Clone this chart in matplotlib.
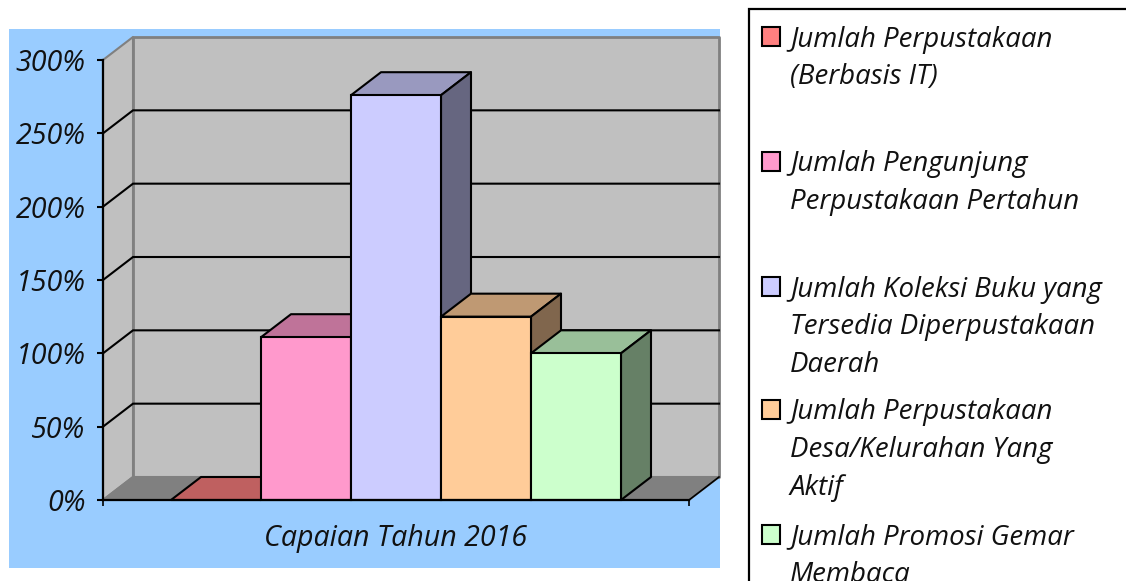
import matplotlib
matplotlib.use("Agg")
import matplotlib.pyplot as plt
from matplotlib.patches import Rectangle

# ---------------------------
# data
# ---------------------------
category = "Capaian Tahun 2016"
series_values = [0, 111, 276, 125, 100]
series_colors = ["#FF8080", "#FF99CC", "#CCCCFF", "#FFCC99", "#CCFFCC"]
series_labels = [
    ["Jumlah Perpustakaan", "(Berbasis IT)"],
    ["Jumlah Pengunjung", "Perpustakaan Pertahun"],
    ["Jumlah Koleksi Buku yang", "Tersedia Diperpustakaan", "Daerah"],
    ["Jumlah Perpustakaan", "Desa/Kelurahan Yang", "Aktif"],
    ["Jumlah Promosi Gemar", "Membaca"],
]
y_ticks = [0, 50, 100, 150, 200, 250, 300]
y_labels = ["0%", "50%", "100%", "150%", "200%", "250%", "300%"]

W, H = 1126, 581
plt.rcParams["font.family"] = "Open Sans"
plt.rcParams["font.style"] = "italic"
FS_AXIS = 20.6
FS_LEGEND = 19.9
TXT = "#111111"

fig = plt.figure(figsize=(W / 100, H / 100), dpi=100, facecolor="white")


def fig_box(x0, y0, x1, y1):
    # pixel box (top-left origin) to figure fractions
    return [x0 / W, 1 - y1 / H, (x1 - x0) / W, (y1 - y0) / H]


# blue chart area
l, b, w, h = fig_box(9, 29, 720, 568)
fig.patches.append(Rectangle((l, b), w, h, transform=fig.transFigure, fc="#99CCFF", ec="none", zorder=-5))

# legend frame runs off the right and bottom of the picture
l, b, w, h = fig_box(749, 9, 1140, 600)
fig.patches.append(Rectangle((l, b), w, h, transform=fig.transFigure, fc="white", ec="black", lw=1.6, zorder=-5))

# ---------------------------
# 3D looking column chart
# ---------------------------
ax = fig.add_axes(fig_box(103, 60, 689, 500))
ax.set_xlim(0, 1)
ax.set_ylim(0, 300)
ax.patch.set_visible(False)

depth_x = 30 / 586
depth_y = 23 / 440 * 300
bar_w = 90 / 586
start_x = 0.5 - bar_w * len(series_values) / 2


def poly(xs, ys, color, edge="black", lw=1.5, z=2):
    ax.fill(xs, ys, fc=color, ec=edge, lw=lw, clip_on=False, zorder=z, joinstyle="round")


def shade(color, k):
    r, g, b_ = matplotlib.colors.to_rgb(color)
    return (r * k, g * k, b_ * k)


# walls and floor
top = y_ticks[-1]
poly([0, depth_x, depth_x, 0], [0, depth_y, top + depth_y, top], "#C0C0C0", "#808080", 1.5, 1)
poly([depth_x, 1 + depth_x, 1 + depth_x, depth_x], [depth_y, depth_y, top + depth_y, top + depth_y],
     "#C0C0C0", "#808080", 2, 1)
poly([0, 1, 1 + depth_x, depth_x], [0, 0, depth_y, depth_y], "#808080", "#808080", 1.5, 1)

# grid lines, side wall and back wall
for t in y_ticks[1:-1]:
    ax.plot([0, depth_x, 1 + depth_x], [t, t + depth_y, t + depth_y], color="black", lw=1.5,
            clip_on=False, zorder=1.5, solid_joinstyle="miter")
ax.plot([1, 1 + depth_x], [0, depth_y], color="black", lw=1.2, clip_on=False, zorder=1.5)

# bars, each one drawn over the previous
for i, (val, col) in enumerate(zip(series_values, series_colors)):
    x0 = start_x + i * bar_w
    x1 = x0 + bar_w
    z = 2 + i * 0.1
    poly([x0, x1, x1 + depth_x, x0 + depth_x], [val, val, val + depth_y, val + depth_y], shade(col, 0.75), z=z)
    poly([x1, x1 + depth_x, x1 + depth_x, x1], [0, depth_y, val + depth_y, val], shade(col, 0.5), z=z)
    if val > 0:
        ax.bar(x0, val, bar_w, align="edge", color=col, edgecolor="black", lw=1.5, zorder=z + 0.05, clip_on=False)

# axes
for s in ["top", "right"]:
    ax.spines[s].set_visible(False)
for s in ["left", "bottom"]:
    ax.spines[s].set_linewidth(1.6)
    ax.spines[s].set_zorder(4)
ax.set_yticks(y_ticks, y_labels, fontsize=FS_AXIS, color=TXT)
ax.set_xticks([0, 1], ["", ""])
ax.set_xticks([0.5], [category], minor=True, fontsize=FS_AXIS, color=TXT)
ax.tick_params(axis="y", direction="out", length=4, width=1.5, pad=8.5)
ax.tick_params(axis="x", which="major", direction="out", length=4, width=1.2)
ax.tick_params(axis="x", which="minor", length=0, pad=17)

# ---------------------------
# legend
# ---------------------------
key_tops = [27, 152, 277, 400, 525]
line_step = 37.7
for key_y, col, lines in zip(key_tops, series_colors, series_labels):
    l, b, w, h = fig_box(762, key_y, 780, key_y + 19)
    fig.patches.append(Rectangle((l, b), w, h, transform=fig.transFigure, fc=col, ec="black", lw=1.5))
    for n, line in enumerate(lines):
        fig.text(790 / W, 1 - (key_y + 12.5 + n * line_step) / H, line, fontsize=FS_LEGEND, color=TXT,
                 ha="left", va="center")

fig.savefig("out.png", dpi=100)
